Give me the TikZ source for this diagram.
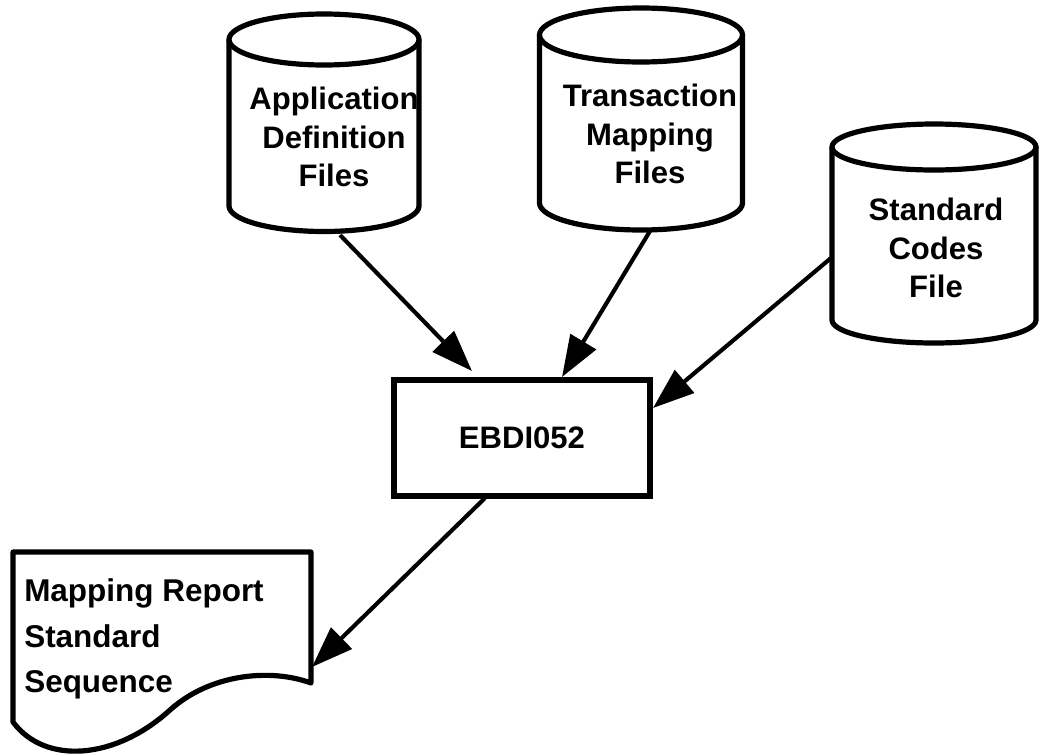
\documentclass[tikz,border=0pt]{standalone}
\usepackage{fontspec}
\setmainfont{Liberation Sans}
\usetikzlibrary{arrows.meta}
\newcommand{\mycyl}[5]{% cx rx ytop ry ybottom
  \draw[shp] ({#1-#2},#3) -- ({#1-#2},#5)
    .. controls ({#1-#2},{#5+0.5523*#4}) and ({#1-0.5523*#2},{#5+#4}) .. (#1,{#5+#4})
    .. controls ({#1+0.5523*#2},{#5+#4}) and ({#1+#2},{#5+0.5523*#4}) .. ({#1+#2},#5)
    -- ({#1+#2},#3);
  \draw[shp] (#1,#3) ellipse [x radius=#2, y radius=#4];}
\begin{document}
\begin{tikzpicture}[x=0.75pt,y=-0.75pt,
  shp/.style={line width=3.9pt, line join=round},
  lbl/.style={font=\fontsize{23.3}{29}\selectfont\bfseries, align=center, inner sep=0pt},
  doclbl/.style={font=\fontsize{23.6}{34}\selectfont\bfseries, align=left, inner sep=0pt, anchor=west},
  procbox/.style={draw, line width=4.2pt, minimum width=192pt, minimum height=87pt,
    font=\fontsize{23.3}{29}\selectfont\bfseries, inner sep=0pt},
  flow/.style={line width=3.1pt, -{Triangle[length=31pt,width=22pt]}}]
\useasboundingbox (0,0) rectangle (1040,754);
% data stores
\mycyl{324}{95}{39.5}{25.5}{206}
\mycyl{641}{101.5}{35}{27}{203}
\mycyl{934}{102}{147}{23}{320}
% report document
\draw[shp] (13,722) -- (13,552) -- (311,552) -- (311,683)
  .. controls (270,668) and (210,674) .. (170,710)
  .. controls (115,760) and (45,765) .. (13,722) -- cycle;
% labels
\node[lbl] (appdef) at (334,137) {Application\\Definition\\Files};
\node[lbl] (trmap) at (650,134) {Transaction\\Mapping\\Files};
\node[lbl] (stdcodes) at (936,248) {Standard\\Codes\\File};
\node[procbox] (box) at (522,438) {EBDI052};
\node[doclbl] (report) at (24,639) {Mapping Report\\Standard\\Sequence};
% connector ends
\coordinate (appOut) at (340,235);
\coordinate (trOut) at (650,231);
\coordinate (stdOut) at (831,258);
\coordinate (boxInA) at (472,371);
\coordinate (boxInB) at (562,377);
\coordinate (boxInC) at (653,408);
\coordinate (boxOut) at (485,498);
\coordinate (repIn) at (312,667);
\draw[flow] (appOut) -- (boxInA);
\draw[flow] (trOut) -- (boxInB);
\draw[flow] (stdOut) -- (boxInC);
\draw[flow] (boxOut) -- (repIn);
\end{tikzpicture}
\end{document}
